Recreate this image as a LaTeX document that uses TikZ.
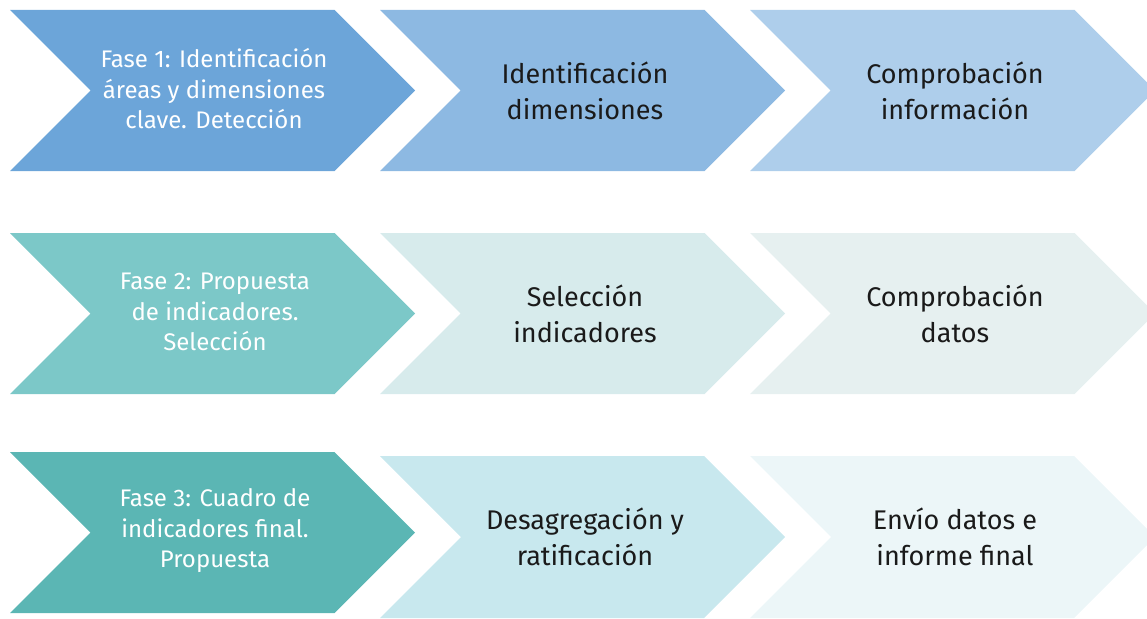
\documentclass[tikz,border=0pt]{standalone}
\usepackage{fontspec}
\setmainfont{Fira Sans}
\definecolor{rA1}{HTML}{6CA5D9}
\definecolor{rA2}{HTML}{8DB9E2}
\definecolor{rA3}{HTML}{AECEEB}
\definecolor{rB1}{HTML}{7CC8C8}
\definecolor{rB2}{HTML}{D7EBEC}
\definecolor{rB3}{HTML}{E6F0F0}
\definecolor{rC1}{HTML}{5BB6B4}
\definecolor{rC2}{HTML}{C8E8EE}
\definecolor{rC3}{HTML}{ECF6F8}
\definecolor{txt}{HTML}{1A1A1A}
% #1 left x, #2 tip x, #3 top y, #4 bottom y, #5 colour
\newcommand\mychev[5]{%
  \fill[#5] (#1,#3) -- ({#2-(#4-#3)/2},#3) -- (#2,{(#3+#4)/2}) -- ({#2-(#4-#3)/2},#4)
    -- (#1,#4) -- ({#1+(#4-#3)/2},{(#3+#4)/2}) -- cycle;}
\tikzset{
  phase/.style={text=white, align=center, inner sep=0pt, font=\fontsize{24}{30.5}\selectfont},
  step2/.style={text=txt, align=center, inner sep=0pt, font=\fontsize{27}{36}\selectfont},
}
\begin{document}
\begin{tikzpicture}[x=1pt,y=-1pt]
\useasboundingbox (0,0) rectangle (1147,618);
\begin{scope}
\clip (0,0) rectangle (1147,618);
\mychev{10}{415}{10}{171}{rA1}
\mychev{380}{785}{10}{171}{rA2}
\mychev{750}{1155}{10}{171}{rA3}
\mychev{10}{415}{233}{394}{rB1}
\mychev{380}{785}{233}{394}{rB2}
\mychev{750}{1155}{233}{394}{rB3}
\mychev{10}{415}{452}{613}{rC1}
\mychev{380}{785}{456}{618}{rC2}
\mychev{750}{1155}{456}{618}{rC3}
\end{scope}
\node[phase] (a1) at (214,89) {Fase 1: Identificación\\áreas y dimensiones\\clave. Detección};
\node[step2] (a2) at (585,91) {Identificación\\dimensiones};
\node[step2] (a3) at (955,91) {Comprobación\\información};
\node[phase] (b1) at (215,312) {Fase 2: Propuesta\\de indicadores.\\Selección};
\node[step2] (b2) at (585,314) {Selección\\indicadores};
\node[step2] (b3) at (955,314) {Comprobación\\datos};
\node[phase] (c1) at (215,531) {Fase 3: Cuadro de\\indicadores final.\\Propuesta};
\node[step2] (c2) at (585,537) {Desagregación y\\ratificación};
\node[step2] (c3) at (955,537) {Envío datos e\\informe final};
\end{tikzpicture}
\end{document}
